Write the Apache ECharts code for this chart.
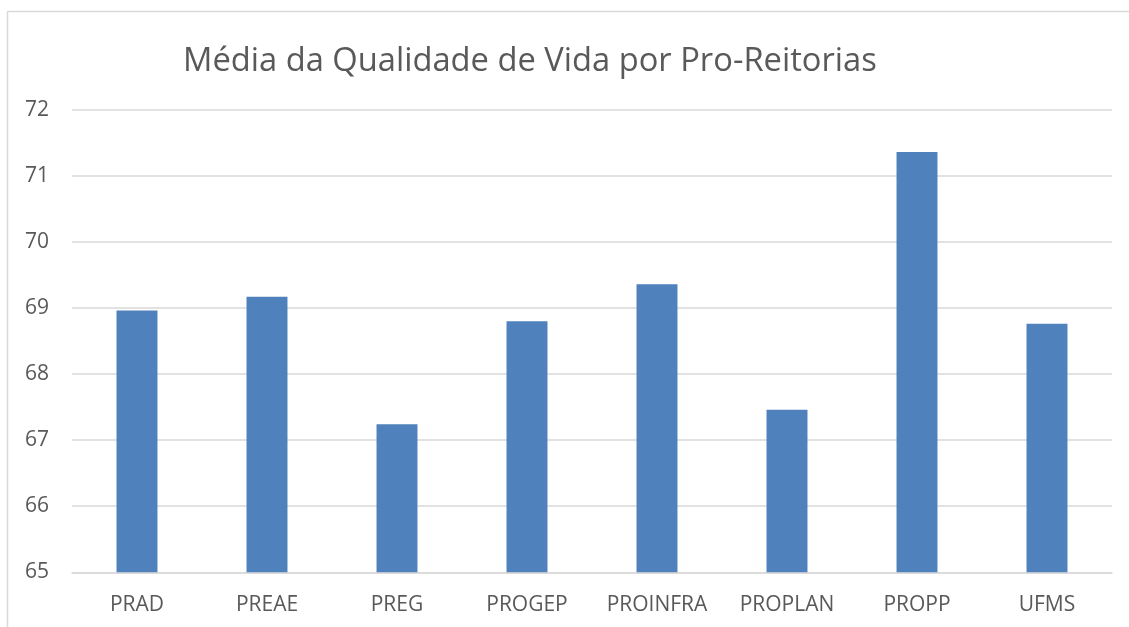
<!DOCTYPE html>
<html>
<head>
<meta charset="utf-8">
<script src="https://cdn.jsdelivr.net/npm/echarts@6/dist/echarts.min.js"></script>
<style>
html,body{margin:0;padding:0;background:#fff;}
#c{width:1129px;height:627px;}
</style>
</head>
<body>
<div id="c"></div>
<script>
const titleText = 'Média da Qualidade de Vida por Pro-Reitorias';
const categories = ['PRAD','PREAE','PREG','PROGEP','PROINFRA','PROPLAN','PROPP','UFMS'];
const values = [68.96, 69.17, 67.24, 68.80, 69.36, 67.46, 71.36, 68.76];
const yMin = 65, yMax = 72, yStep = 1;

const chart = echarts.init(document.getElementById('c'), null, {renderer:'canvas'});
chart.setOption({
  backgroundColor:'#ffffff',
  animation:false,
  title:{
    text:titleText,
    left:178, top:40,
    textStyle:{fontFamily:'Open Sans', fontSize:32.7, fontWeight:'normal', color:'#595959'}
  },
  graphic:[
    {type:'line', shape:{x1:7.5,y1:11.5,x2:1129,y2:11.5}, style:{stroke:'#D9D9D9', lineWidth:1.5}, silent:true},
    {type:'line', shape:{x1:7.5,y1:11.5,x2:7.5,y2:627}, style:{stroke:'#D9D9D9', lineWidth:1.5}, silent:true}
  ],
  grid:{left:72, right:17, top:109.7, bottom:54.7, containLabel:false},
  xAxis:{
    type:'category', data:categories,
    axisLine:{show:true, lineStyle:{color:'#D9D9D9', width:1.5}},
    axisTick:{show:false},
    axisLabel:{color:'#595959', fontFamily:'Open Sans', fontSize:21, margin:22, interval:0, hideOverlap:false}
  },
  yAxis:{
    type:'value', min:yMin, max:yMax, interval:yStep,
    axisLine:{show:false}, axisTick:{show:false},
    splitLine:{lineStyle:{color:'#D9D9D9', width:1.5}},
    axisLabel:{color:'#595959', fontFamily:'Open Sans', fontSize:21, margin:23}
  },
  series:[{
    type:'bar', data:values, barWidth:'31.5%',
    itemStyle:{color:'#4F81BD'}
  }]
});
</script>
</body>
</html>
